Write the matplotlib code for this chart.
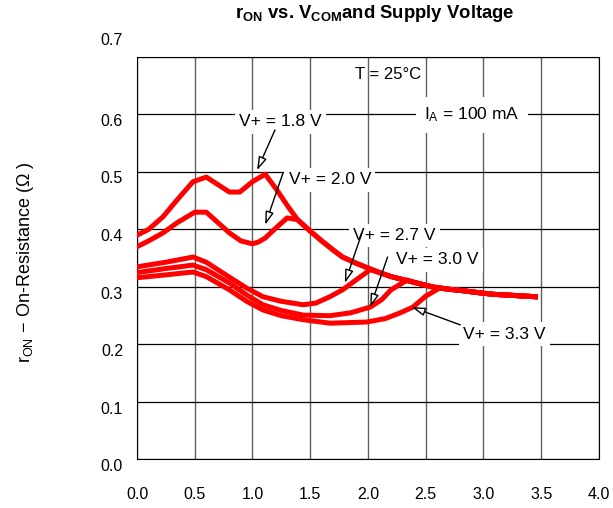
import matplotlib
matplotlib.use('Agg')
import matplotlib.pyplot as plt
import matplotlib.transforms as mtransforms

plt.rcParams['font.family'] = ['Liberation Sans', 'DejaVu Sans']
plt.rcParams['mathtext.fontset'] = 'custom'
plt.rcParams['mathtext.rm'] = 'Liberation Sans'
plt.rcParams['mathtext.it'] = 'Liberation Sans'
plt.rcParams['mathtext.bf'] = 'Liberation Sans:bold'

# shared tail that every curve merges into
tail_v = [1.21, 1.30, 1.39, 1.50, 1.60, 1.70, 1.78, 1.90, 2.00, 2.10, 2.20, 2.30, 2.40, 2.56, 2.70,
          2.80, 3.00, 3.10, 3.20, 3.45]
tail_r = [0.469, 0.442, 0.417, 0.397, 0.380, 0.364, 0.352, 0.341, 0.333, 0.325, 0.318, 0.313, 0.308,
          0.300, 0.296, 0.294, 0.289, 0.287, 0.286, 0.283]

v18 = [0.0, 0.10, 0.225, 0.35, 0.485, 0.60, 0.70, 0.80, 0.89, 1.00, 1.11]
r18 = [0.390, 0.400, 0.422, 0.452, 0.483, 0.491, 0.478, 0.465, 0.465, 0.483, 0.496]

v20 = [0.0, 0.10, 0.225, 0.35, 0.50, 0.60, 0.70, 0.80, 0.90, 1.00, 1.05, 1.11, 1.20, 1.30]
r20 = [0.370, 0.380, 0.394, 0.412, 0.430, 0.430, 0.412, 0.394, 0.380, 0.375, 0.378, 0.385, 0.402, 0.420]

v27 = [0.0, 0.25, 0.485, 0.60, 0.80, 0.95, 1.09, 1.25, 1.44, 1.55, 1.67, 1.78, 1.93, 2.02]
r27 = [0.335, 0.343, 0.352, 0.343, 0.317, 0.298, 0.283, 0.275, 0.269, 0.272, 0.283, 0.295, 0.317, 0.330]

v30 = [0.0, 0.25, 0.485, 0.60, 0.80, 0.95, 1.09, 1.25, 1.44, 1.67, 1.85, 2.02, 2.12, 2.20, 2.34]
r30 = [0.325, 0.332, 0.338, 0.330, 0.307, 0.286, 0.269, 0.259, 0.251, 0.250, 0.255, 0.265, 0.278,
       0.295, 0.312]

v33 = [0.0, 0.25, 0.485, 0.60, 0.80, 0.95, 1.09, 1.25, 1.44, 1.67, 1.99, 2.15, 2.28, 2.39, 2.50, 2.62]
r33 = [0.316, 0.321, 0.326, 0.318, 0.295, 0.275, 0.260, 0.250, 0.243, 0.237, 0.239, 0.245, 0.255,
       0.265, 0.284, 0.298]

labels = ['V+ = 1.8 V', 'V+ = 2.0 V', 'V+ = 2.7 V', 'V+ = 3.0 V', 'V+ = 3.3 V']
# label text position, arrow start, arrow tip (data coords)
label_xy = [(1.24, 0.587), (1.67, 0.486), (2.23, 0.390), (2.60, 0.347), (3.18, 0.218)]
arrow_from = [(1.195, 0.573), (1.264, 0.498), (1.948, 0.394), (2.17, 0.352), (2.80, 0.234)]
arrow_to = [(1.04, 0.503), (1.11, 0.408), (1.80, 0.307), (2.02, 0.265), (2.38, 0.265)]


def with_tail(vs, rs):
    start = vs[-1]
    return (vs + [v for v in tail_v if v > start + 0.05],
            rs + [r for v, r in zip(tail_v, tail_r) if v > start + 0.05])


fig = plt.figure(figsize=(6.13, 5.08), dpi=100)
ax = fig.add_axes([0.2235, 0.0955, 0.7535, 0.7925])

for vs, rs in [(v18, r18), (v20, r20), (v27, r27), (v30, r30), (v33, r33)]:
    x, y = with_tail(vs, rs)
    ax.plot(x, y, color='#ff0000', lw=3.6, solid_joinstyle='round', zorder=3)

ax.set_xlim(0, 4.0)
ax.set_ylim(0, 0.7)
ax.set_xticks([i * 0.5 for i in range(9)])
ax.set_yticks([i * 0.1 for i in range(8)])
ax.set_xticklabels(['%.1f' % (i * 0.5) for i in range(9)])
ax.set_yticklabels(['%.1f' % (i * 0.1) for i in range(8)])
ax.tick_params(length=0, labelsize=11.5)
ax.tick_params(axis='x', pad=20)
ax.tick_params(axis='y', pad=10)
ax.grid(True, axis='x', color='#606060', lw=1.0, zorder=1)
ax.grid(True, axis='y', color='black', lw=0.9, zorder=1)
for s in ax.spines.values():
    s.set_linewidth(0.8)

# shift y labels down a bit, top one up as in the original
for i, lab in enumerate(ax.get_yticklabels()):
    dy = 13 / 72 if i == 7 else -4 / 72
    lab.set_transform(lab.get_transform() + mtransforms.ScaledTranslation(0, dy, fig.dpi_scale_trans))

for lab, pos, a0, a1 in zip(labels, label_xy, arrow_from, arrow_to):
    ax.text(pos[0], pos[1], lab, fontsize=12.5, ha='center', va='center',
            bbox=dict(facecolor='white', edgecolor='none', pad=3), zorder=4)
    ax.annotate('', xy=a1, xytext=a0,
                arrowprops=dict(arrowstyle='-|>,head_length=0.8,head_width=0.25', fc='white',
                                ec='black', lw=1.0, shrinkA=0, shrinkB=0), zorder=5)

ax.text(2.17, 0.669, 'T = 25°C', fontsize=12, ha='center', va='center', zorder=4)
ax.text(2.90, 0.599, 'I$_\\mathregular{A}$ = 100 mA', fontsize=12.5, ha='center', va='center',
        bbox=dict(facecolor='white', edgecolor='none', pad=6), zorder=4)

fig.text(375 / 613, 1 - 14 / 508, 'r$_\\mathbf{ON}$ vs. V$_\\mathbf{COM}$and Supply Voltage',
         fontsize=13.3, fontweight='bold', ha='center', va='center')
fig.text(0.041, 0.484, 'r$_\\mathregular{ON}$ $-$ On-Resistance ($\\Omega$ )', rotation=90,
         fontsize=13, ha='center', va='center')

fig.savefig('out.png', dpi=100)
